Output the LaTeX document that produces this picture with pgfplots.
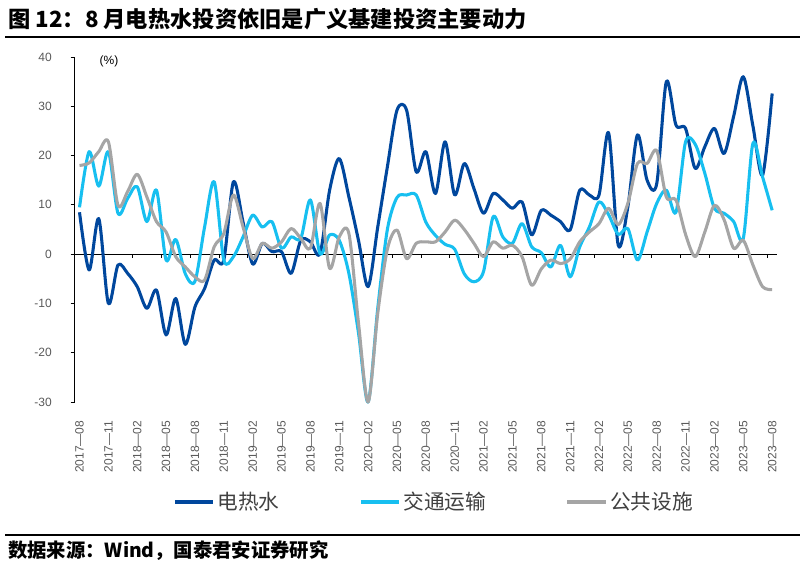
\documentclass[border=0pt]{standalone}
\usepackage{fontspec}
\setmainfont{Liberation Sans}
\newfontfamily\cjk{Noto Sans CJK SC}
\usepackage{pgfplots}
\pgfplotsset{compat=1.18}
\usepackage{pgfplotstable}
\definecolor{cDark}{HTML}{00479D}
\definecolor{cLight}{HTML}{17BFF0}
\definecolor{cGray}{HTML}{A5A5A5}
\definecolor{cTick}{HTML}{595959}
\definecolor{cText}{HTML}{404040}

\pgfplotstableread{
m a b c
0 8.5 9.5 18.0
1 -3.2 20.8 18.5
2 7.2 13.8 20.8
3 -10.0 20.8 22.8
4 -2.2 8.3 9.9
5 -3.9 11.3 12.7
6 -6.6 13.7 16.2
7 -11.0 6.6 11.6
8 -7.3 13.0 6.6
9 -16.4 -1.2 4.5
10 -9.0 3.0 -0.5
11 -18.3 -4.0 -2.6
12 -10.7 -5.5 -4.6
13 -7.0 5.5 -5.3
14 -1.2 14.7 1.5
15 -1.2 -1.2 4.2
16 14.7 -0.5 12.0
17 6.5 3.5 5.5
18 -2.0 7.9 -0.9
19 2.2 5.5 2.2
20 0.5 6.6 1.2
21 0.5 1.2 2.5
22 -3.9 3.5 5.2
23 2.8 3.2 3.2
24 2.5 11.0 1.2
25 0.1 0.1 10.3
26 13.0 3.9 -2.9
27 19.4 2.8 3.5
28 11.6 -3.9 4.2
29 2.8 -16.0 -14.0
30 -6.6 -30.0 -30.0
31 5.5 -11.0 -12.0
32 17.7 5.0 1.0
33 29.2 11.5 4.9
34 29.2 12.0 -0.9
35 16.7 12.0 2.2
36 20.8 6.5 2.5
37 12.3 3.8 2.5
38 22.8 2.0 4.5
39 12.0 1.0 6.9
40 18.4 -4.0 5.0
41 13.3 -5.6 2.2
42 8.3 -3.5 -0.5
43 12.3 7.6 2.5
44 11.0 3.5 1.2
45 9.3 2.2 1.8
46 10.6 6.2 -0.5
47 3.9 1.5 -6.3
48 8.9 0.3 -3.0
49 7.9 -2.6 -1.2
50 6.6 1.8 -1.9
51 4.9 -4.6 -1.0
52 13.0 1.5 2.5
53 12.0 5.5 4.5
54 12.0 10.6 6.2
55 24.6 8.0 9.3
56 1.8 4.0 6.0
57 9.6 5.2 10.3
58 24.2 -1.2 18.4
59 15.0 4.5 18.4
60 14.3 10.3 21.0
61 35.0 13.0 11.6
62 26.2 8.5 11.0
63 25.5 22.8 4.0
64 17.4 22.3 -0.5
65 21.8 16.4 4.5
66 25.5 9.3 9.9
67 20.4 8.3 7.0
68 28.0 6.6 1.2
69 36.0 3.2 2.8
70 26.0 22.5 -2.2
71 16.0 15.7 -6.6
72 32.6 8.9 -7.2
}\datatable

\begin{document}
\begin{tikzpicture}
\path[use as bounding box] (0,0) rectangle (603.75pt,426.75pt);
\node[anchor=west, inner sep=0pt] at (6pt,412.5pt) {\cjk\bfseries\fontsize{16.7}{19}\selectfont 图 12：8 月电热水投资依旧是广义基建投资主要动力};
\draw[line width=1pt] (3.75pt,399pt) -- (600pt,399pt);
\draw[line width=1pt] (3.75pt,25.5pt) -- (600pt,25.5pt);
\node[anchor=west, inner sep=0pt] at (6pt,13.5pt) {\cjk\bfseries\fontsize{14.5}{16}\selectfont 数据来源：Wind，国泰君安证券研究};
\begin{axis}[
  at={(56.03pt,125.25pt)}, anchor=south west, scale only axis,
  width=526.7pt, height=258.75pt,
  xmin=-0.5, xmax=72.5, ymin=-30, ymax=40,
  axis y line=left, axis x line=bottom,
  axis line style={-, black, line width=0.75pt},
  x axis line style={draw=none},
  clip=false,
  xtick={0,3,...,72},
  xticklabels={2017—08,2017—11,2018—02,2018—05,2018—08,2018—11,2019—02,2019—05,2019—08,2019—11,2020—02,2020—05,2020—08,2020—11,2021—02,2021—05,2021—08,2021—11,2022—02,2022—05,2022—08,2022—11,2023—02,2023—05,2023—08},
  xtick style={draw=none},
  xticklabel style={rotate=90, anchor=east, inner sep=0pt, font=\fontsize{9}{10}\selectfont, text=cTick},
  xticklabel shift=12.5pt,
  ytick={-30,-20,-10,0,10,20,30,40},
  yticklabels={-30,-20,-10,0,10,20,30,40},
  ytick align=outside, ytick pos=left,
  major tick length=3pt,
  ytick style={black, line width=0.75pt},
  yticklabel style={anchor=east, inner sep=0pt, font=\fontsize{9}{10}\selectfont, text=cTick},
  yticklabel shift=14pt,
  legend columns=3,
  legend style={draw=none, fill=none, at={(0.5113,-0.289)}, anchor=center,
    font=\cjk\fontsize{15.5}{17}\selectfont, text=cText, nodes={inner sep=1.5pt},
    /tikz/every even column/.append style={column sep=58pt}},
  legend image code/.code={\draw[#1, line width=3pt] (0pt,0pt) -- (29pt,0pt);},
]
\draw[black, line width=0.75pt] (axis cs:-0.5,0) -- (axis cs:72.5,0);
\pgfplotsinvokeforeach{-0.5,2.5,5.5,8.5,11.5,14.5,17.5,20.5,23.5,26.5,29.5,32.5,35.5,38.5,41.5,44.5,47.5,50.5,53.5,56.5,59.5,62.5,65.5,68.5,71.5}{
  \draw[black, line width=0.75pt] (axis cs:#1,0) -- ([yshift=-3pt]axis cs:#1,0);
}
\addplot[cDark, line width=2.3pt, smooth, no marks, line join=round] table[x=m, y=a] {\datatable};
\addlegendentry{电热水}
\addplot[cLight, line width=2.3pt, smooth, no marks, line join=round] table[x=m, y=b] {\datatable};
\addlegendentry{交通运输}
\addplot[cGray, line width=2.3pt, smooth, no marks, line join=round] table[x=m, y=c] {\datatable};
\addlegendentry{公共设施}
\end{axis}
\node[inner sep=0pt, font=\fontsize{9}{10}\selectfont] at (81.75pt,381pt) {(\%)};
\end{tikzpicture}
\end{document}
